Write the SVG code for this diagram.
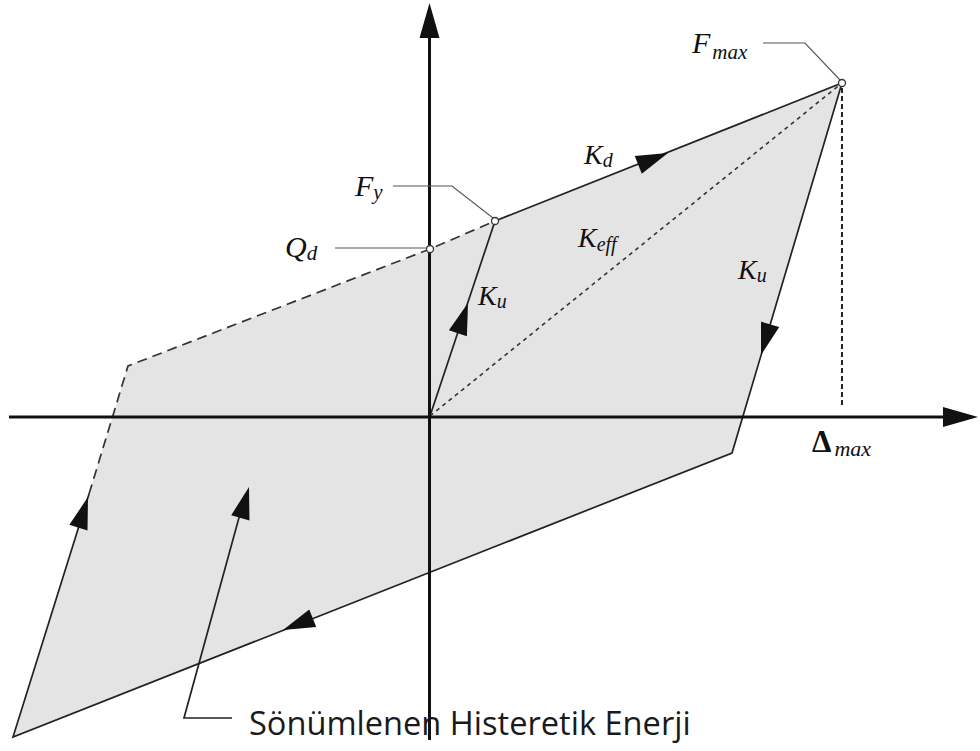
<svg xmlns="http://www.w3.org/2000/svg" xmlns:xlink="http://www.w3.org/1999/xlink" width="980" height="751" viewBox="0 0 980 751">
<style>
.edge{fill:none;stroke:#222;stroke-width:1.7;stroke-linejoin:miter}
.dash{fill:none;stroke:#333;stroke-width:1.7;stroke-dasharray:10,6}
.dot{fill:none;stroke:#333;stroke-width:1.6;stroke-dasharray:4,4}
.vdot{fill:none;stroke:#222;stroke-width:2;stroke-dasharray:5,3}
.axis{fill:none;stroke:#111;stroke-width:3}
.lead{fill:none;stroke:#555;stroke-width:1.1}
.pt{fill:#fff;stroke:#333;stroke-width:1.3}
.lbl{font-family:"Liberation Serif","Times New Roman",serif;font-style:italic;fill:#111}
.cap{font-family:"Open Sans","Noto Sans",sans-serif;fill:#1a1a1a}
</style>
<defs>
<path id="ah" d="M0,0 L-32,-9.5 L-32,9.5 Z" fill="#111"/>
<path id="axh" d="M0,0 L-35,-10 L-35,10 Z" fill="#111"/>
</defs>
<rect width="980" height="751" fill="#fff"/>
<g id="hysteresis-area">
<polygon points="13,737 89,494 128,366 430,249 495,221 842,83 732,453" fill="#e4e4e4" stroke="none"/>
</g>
<g id="connectors">
<path class="edge" d="M89,494 L13,737 L732,453 L842,83 L495,221"/>
<path class="dash" d="M89,494 L128,366 L430,249 L495,221"/>
<path class="edge" d="M430,416 L495,221"/>
<path class="dot" d="M430,416 L842,83"/>
<path class="vdot" d="M842,88 L842,408"/>
<path class="axis" d="M429.5,36 L429.5,740"/>
<use xlink:href="#axh" transform="translate(429.5,3) rotate(-90)"/>
<path class="axis" d="M9,417 L945,417"/>
<use xlink:href="#axh" transform="translate(978,417)"/>
<use xlink:href="#ah" transform="translate(668,153) rotate(-21.7)"/>
<use xlink:href="#ah" transform="translate(761,355) rotate(106.6)"/>
<use xlink:href="#ah" transform="translate(468,303) rotate(-71.6)"/>
<use xlink:href="#ah" transform="translate(88,497) rotate(-72.6)"/>
<use xlink:href="#ah" transform="translate(283,630) rotate(158.4)"/>
<path class="lead" d="M763,43 L805,43 L840,80"/>
<path class="lead" d="M393,186 L452,186 L493,218"/>
<path class="lead" d="M335,248 L426,248"/>
<path class="edge" d="M232,718 L184,718 L243,503"/>
<use xlink:href="#ah" transform="translate(249,487) rotate(-74.3)"/>
</g>
<g id="points">
<circle class="pt" cx="842" cy="83" r="3.5"/>
<circle class="pt" cx="495" cy="221" r="3.5"/>
<circle class="pt" cx="430" cy="249" r="3.5"/>
</g>
<g id="label-fmax"><text class="lbl" x="692" y="53" font-size="30">F<tspan font-size="21" dx="2" dy="6">max</tspan></text></g>
<g id="label-kd"><text class="lbl" x="584" y="164" font-size="28">K<tspan font-size="20" dy="3">d</tspan></text></g>
<g id="label-keff"><text class="lbl" x="578" y="247" font-size="28">K<tspan font-size="20" dy="4">eff</tspan></text></g>
<g id="label-ku-right"><text class="lbl" x="738" y="279" font-size="28">K<tspan font-size="20" dy="3">u</tspan></text></g>
<g id="label-ku-left"><text class="lbl" x="478" y="305" font-size="28">K<tspan font-size="20" dy="3">u</tspan></text></g>
<g id="label-fy"><text class="lbl" x="355" y="196" font-size="30">F<tspan font-size="21" dy="3">y</tspan></text></g>
<g id="label-qd"><text class="lbl" x="285" y="257" font-size="30">Q<tspan font-size="21" dy="3">d</tspan></text></g>
<g id="label-dmax"><text x="812" y="452" font-family="Liberation Serif,'Times New Roman',serif" font-weight="bold" font-size="31" fill="#111">Δ<tspan class="lbl" font-weight="normal" font-size="22" dx="3" dy="4">max</tspan></text></g>
<g id="label-energy"><text class="cap" x="249" y="735" font-size="32.6">Sönümlenen Histeretik Enerji</text></g>
</svg>
